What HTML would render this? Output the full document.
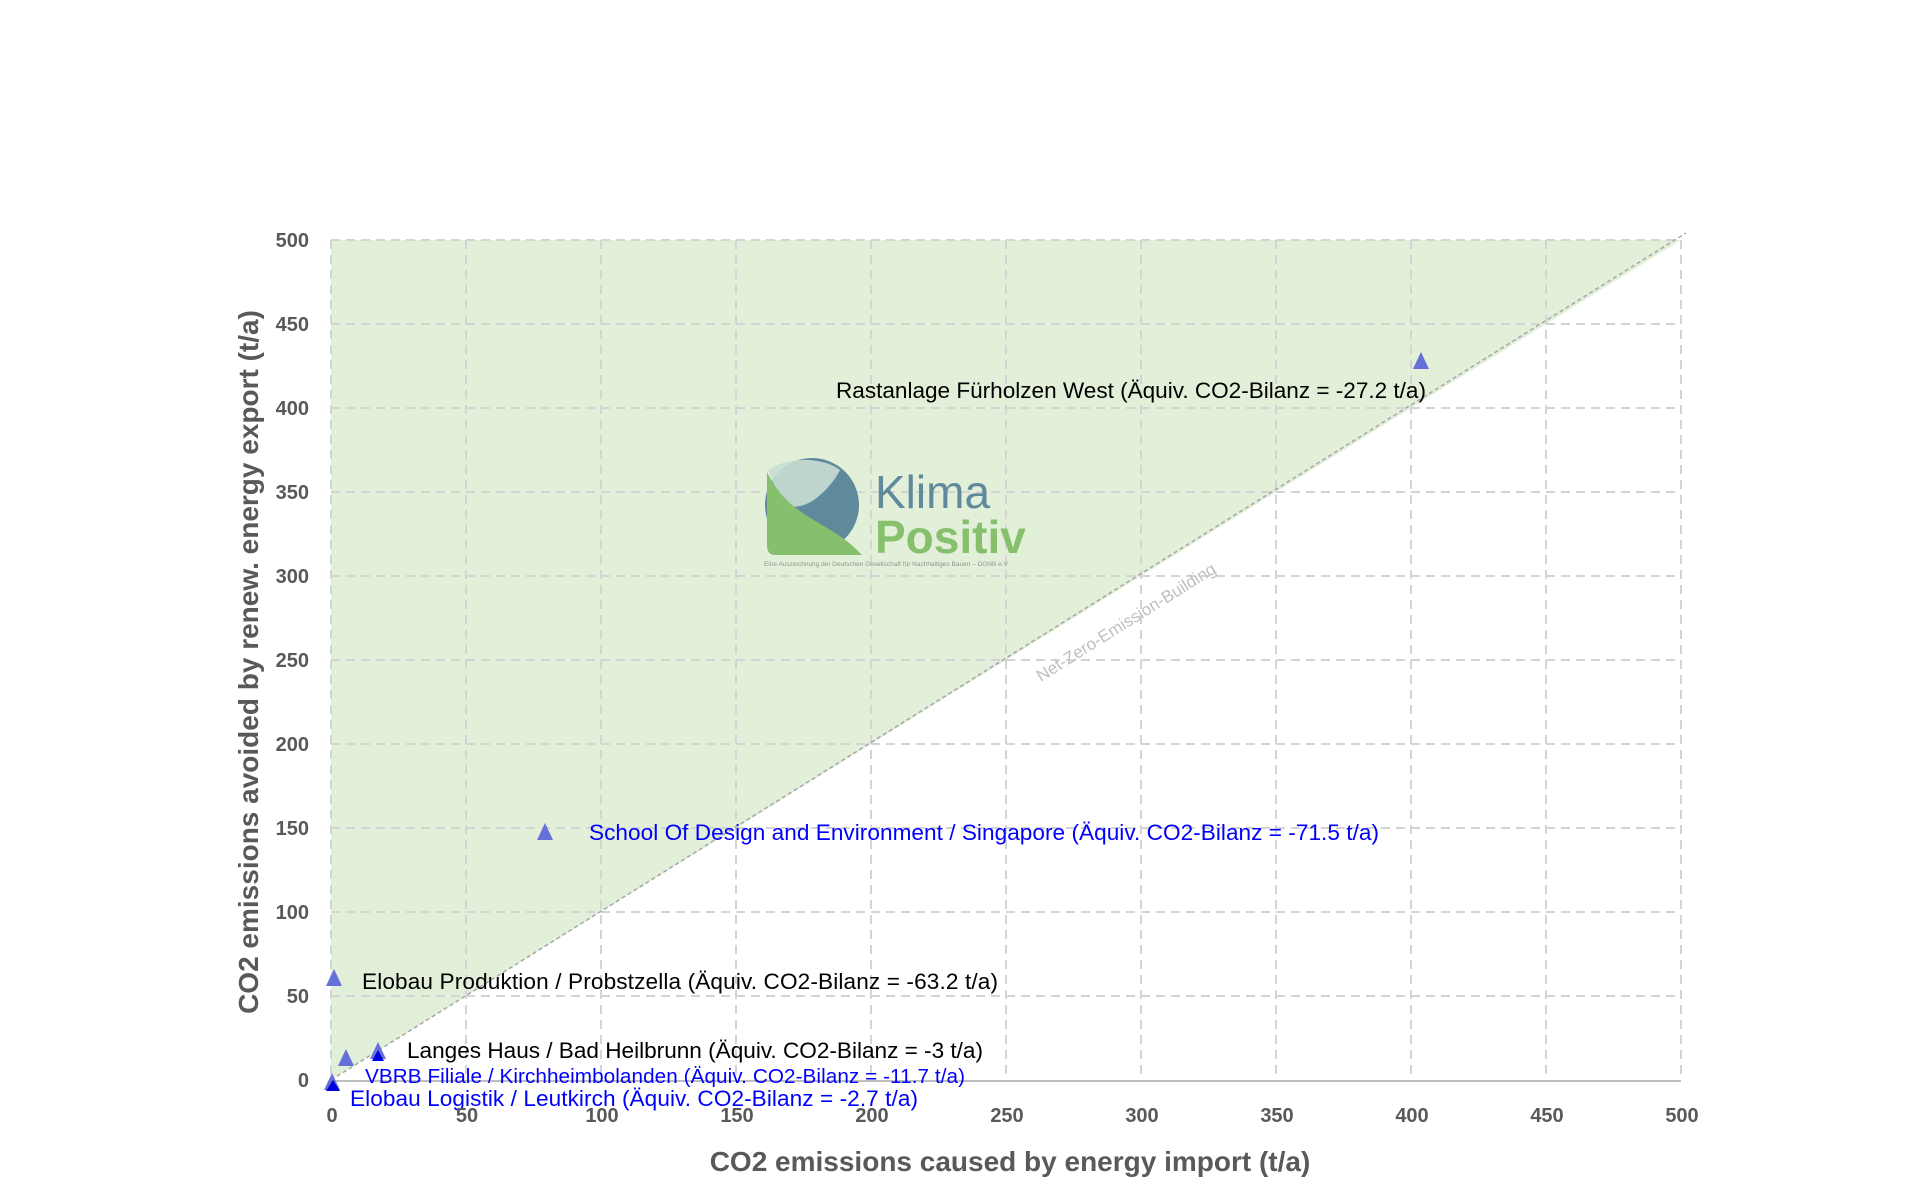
<!DOCTYPE html>
<html><head><meta charset="utf-8"><style>
html,body{margin:0;padding:0;background:#fff;}
svg{display:block;}
text{font-family:"Liberation Sans",sans-serif;}
</style></head><body>
<svg width="1920" height="1200" viewBox="0 0 1920 1200" xmlns="http://www.w3.org/2000/svg">
<rect width="1920" height="1200" fill="#fff"/>
<polygon points="331,240 1681,240 331,1080" fill="#e2efd9"/>
<g stroke="#d4d4d4" stroke-width="2" stroke-dasharray="9,6" fill="none">
<line x1="331" y1="240" x2="1681" y2="240"/>
<line x1="331" y1="324" x2="1681" y2="324"/>
<line x1="331" y1="408" x2="1681" y2="408"/>
<line x1="331" y1="492" x2="1681" y2="492"/>
<line x1="331" y1="576" x2="1681" y2="576"/>
<line x1="331" y1="660" x2="1681" y2="660"/>
<line x1="331" y1="744" x2="1681" y2="744"/>
<line x1="331" y1="828" x2="1681" y2="828"/>
<line x1="331" y1="912" x2="1681" y2="912"/>
<line x1="331" y1="996" x2="1681" y2="996"/>
<line x1="331" y1="240" x2="331" y2="1080"/>
<line x1="466" y1="240" x2="466" y2="1080"/>
<line x1="601" y1="240" x2="601" y2="1080"/>
<line x1="736" y1="240" x2="736" y2="1080"/>
<line x1="871" y1="240" x2="871" y2="1080"/>
<line x1="1006" y1="240" x2="1006" y2="1080"/>
<line x1="1141" y1="240" x2="1141" y2="1080"/>
<line x1="1276" y1="240" x2="1276" y2="1080"/>
<line x1="1411" y1="240" x2="1411" y2="1080"/>
<line x1="1546" y1="240" x2="1546" y2="1080"/>
<line x1="1681" y1="240" x2="1681" y2="1080"/>
</g>
<line x1="331" y1="1081" x2="1681" y2="1081" stroke="#bfbfbf" stroke-width="2"/>
<line x1="331" y1="1080" x2="1686" y2="233" stroke="#a6a6a6" stroke-width="1.5" stroke-dasharray="4,3"/>
<text transform="translate(1129,627) rotate(-32)" text-anchor="middle" font-size="17" fill="#bfbfbf">Net-Zero-Emission-Building</text>
<g>
<circle cx="812" cy="505" r="47" fill="#5f8a9c"/>
<path d="M768,470 C790,455 825,458 840,470 C830,490 800,520 780,500 Z" fill="#c9ddd4" opacity="0.9"/>
<path d="M767,472 C790,520 830,520 862,555 L775,555 Q767,555 767,545 Z" fill="#86c06c"/>
<text x="875" y="508" font-size="46" fill="#5f8a9c">Klima</text>
<text x="875" y="553" font-size="46" font-weight="bold" fill="#86c06c">Positiv</text>
<text x="764" y="566" font-size="6.5" fill="#8a9a90">Eine Auszeichnung der Deutschen Gesellschaft für Nachhaltiges Bauen – DGNB e.V.</text>
</g>
<g fill="#6570d8">
<polygon points="1421,352 1413,369 1429,369"/>
<polygon points="545,823 537,840 553,840"/>
<polygon points="334,969 326,986 342,986"/>
<polygon points="346,1049 338,1066 354,1066"/>
<polygon points="378,1042 370,1059 386,1059"/>
<polygon points="332,1073 324,1090 340,1090"/>
</g>
<g fill="#0000e0">
<polygon points="378,1050 372,1061 384,1061"/>
<polygon points="333,1080 326,1091 340,1091"/>
</g>
<g font-size="22.6">
<text x="836" y="398" fill="#000" textLength="590">Rastanlage Fürholzen West (Äquiv. CO2-Bilanz = -27.2 t/a)</text>
<text x="589" y="840" fill="#0000ff" textLength="790">School Of Design and Environment / Singapore (Äquiv. CO2-Bilanz = -71.5 t/a)</text>
<text x="362" y="989" fill="#000" textLength="636">Elobau Produktion / Probstzella (Äquiv. CO2-Bilanz = -63.2 t/a)</text>
<text x="407" y="1058" fill="#000" textLength="576">Langes Haus / Bad Heilbrunn (Äquiv. CO2-Bilanz = -3 t/a)</text>
<text x="365" y="1083" fill="#0000ff" font-size="20.7" textLength="600">VBRB Filiale / Kirchheimbolanden (Äquiv. CO2-Bilanz = -11.7 t/a)</text>
<text x="350" y="1106" fill="#0000ff" textLength="568">Elobau Logistik / Leutkirch (Äquiv. CO2-Bilanz = -2.7 t/a)</text>
</g>
<g font-size="20" font-weight="bold" fill="#595959" text-anchor="end">
<text x="309" y="247">500</text><text x="309" y="331">450</text><text x="309" y="415">400</text>
<text x="309" y="499">350</text><text x="309" y="583">300</text><text x="309" y="667">250</text>
<text x="309" y="751">200</text><text x="309" y="835">150</text><text x="309" y="919">100</text>
<text x="309" y="1003">50</text><text x="309" y="1087">0</text>
</g>
<g font-size="20" font-weight="bold" fill="#595959" text-anchor="middle">
<text x="332" y="1122">0</text><text x="467" y="1122">50</text><text x="602" y="1122">100</text>
<text x="737" y="1122">150</text><text x="872" y="1122">200</text><text x="1007" y="1122">250</text>
<text x="1142" y="1122">300</text><text x="1277" y="1122">350</text><text x="1412" y="1122">400</text>
<text x="1547" y="1122">450</text><text x="1682" y="1122">500</text>
</g>
<text x="1010" y="1171" font-size="28" font-weight="bold" fill="#595959" text-anchor="middle">CO2 emissions caused by energy import (t/a)</text>
<text transform="translate(258,662) rotate(-90)" font-size="28" font-weight="bold" fill="#595959" text-anchor="middle">CO2 emissions avoided by renew. energy export (t/a)</text>
</svg>
</body></html>
